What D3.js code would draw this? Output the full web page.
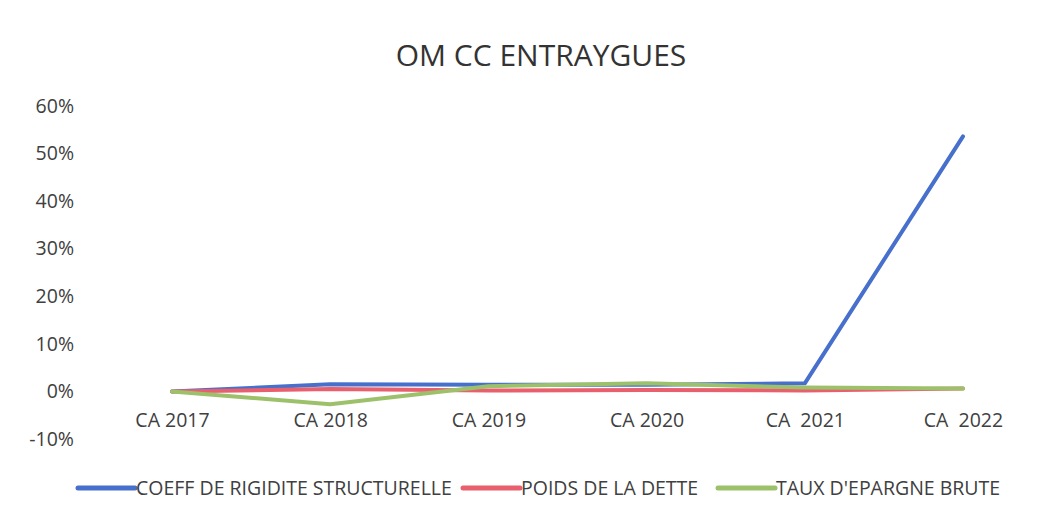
<!DOCTYPE html>
<html>
<head>
<meta charset="utf-8">
<script src="https://cdn.jsdelivr.net/npm/d3@7"></script>
<style>
  body { margin: 0; background: #fff; }
  text { font-family: "Open Sans", "Noto Sans", sans-serif; fill: #404040; white-space: pre; }
</style>
</head>
<body>
<div id="chart"></div>
<script>
const categories = ["CA 2017", "CA 2018", "CA 2019", "CA 2020", "CA  2021", "CA  2022"];
const coeffRigidite = [0, 1.5, 1.4, 1.4, 1.7, 53.6];
const poidsDette = [0, 0.5, 0.2, 0.3, 0.2, 0.6];
const tauxEpargne = [0, -2.7, 1.1, 1.7, 0.8, 0.6];
const yTicks = [-10, 0, 10, 20, 30, 40, 50, 60];

const seriesNames = ["COEFF DE RIGIDITE STRUCTURELLE", "POIDS DE LA DETTE", "TAUX D'EPARGNE BRUTE"];
const seriesColors = ["#4770cc", "#e8606e", "#9dc16a"];
const series = [coeffRigidite, poidsDette, tauxEpargne];

const width = 1050, height = 514;

const svg = d3.select("#chart").append("svg")
  .attr("width", width)
  .attr("height", height);

svg.append("text")
  .attr("x", 541)
  .attr("y", 66)
  .attr("text-anchor", "middle")
  .attr("font-size", "30px")
  .style("fill", "#333")
  .text("OM CC ENTRAYGUES");

const x = d3.scalePoint().domain(categories).range([172, 963]);
const y = d3.scaleLinear().domain([-10, 60]).range([439, 106]);

// y axis labels (no line, no ticks)
const yAxis = d3.axisLeft(y).tickValues(yTicks).tickSize(0).tickPadding(0)
  .tickFormat(d => d + "%");
const yAxisG = svg.append("g").attr("transform", "translate(74,0)").call(yAxis);
yAxisG.select(".domain").remove();
yAxisG.selectAll("text").attr("font-size", "19.5px").style("font-family", null);

// category labels sit under the zero line
const xAxis = d3.axisBottom(x).tickSize(0).tickPadding(22);
const xAxisG = svg.append("g").attr("transform", "translate(0," + y(0) + ")").call(xAxis);
xAxisG.select(".domain").remove();
xAxisG.selectAll("text").attr("font-size", "19.5px").style("font-family", null);

const line = d3.line()
  .x((d, i) => x(categories[i]))
  .y(d => y(d));

svg.append("g").selectAll("path")
  .data(series)
  .join("path")
  .attr("d", line)
  .attr("fill", "none")
  .attr("stroke", (d, i) => seriesColors[i])
  .attr("stroke-width", 4)
  .attr("stroke-linejoin", "round")
  .attr("stroke-linecap", "round");

// legend
const legendX = [78, 463, 718];
const legend = svg.append("g").selectAll("g")
  .data(seriesNames)
  .join("g")
  .attr("transform", (d, i) => "translate(" + legendX[i] + ",488)");
legend.append("line")
  .attr("x1", 0).attr("x2", 57)
  .attr("stroke", (d, i) => seriesColors[i])
  .attr("stroke-width", 5)
  .attr("stroke-linecap", "round");
legend.append("text")
  .attr("x", 58)
  .attr("dy", "0.35em")
  .attr("font-size", "19.5px")
  .text(d => d);
</script>
</body>
</html>
